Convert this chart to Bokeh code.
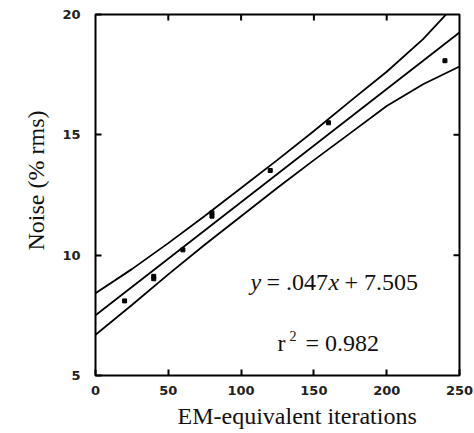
import math
from bokeh.plotting import figure
from bokeh.models import Range1d, FixedTicker, Label, Title
from bokeh.embed import file_html
from bokeh.resources import INLINE

# ---- data ----
x_ticks = [0, 50, 100, 150, 200, 250]
y_ticks = [5, 10, 15, 20]
top_ticks = [50, 100, 150, 200]
right_ticks = [10, 15]

pts_x = [20, 40, 40, 60, 80, 80, 120, 160, 240]
pts_y = [8.1, 9.02, 9.12, 10.22, 11.62, 11.76, 13.52, 15.5, 18.08]

fit_x = [0, 250]
fit_y = [7.505, 19.255]

band_x = [0, 25, 50, 75, 100, 125, 150, 175, 200, 225, 250]
band_upper = [8.42, 9.42, 10.50, 11.63, 12.79, 13.96, 15.16, 16.40, 17.62, 18.98, 20.60]
band_lower = [6.69, 7.93, 9.20, 10.43, 11.62, 12.80, 13.95, 15.07, 16.20, 17.10, 17.84]

x_min, x_max = 0, 250
y_min, y_max = 5, 20

SERIF = "Liberation Serif"
SANS = "DejaVu Sans"
INK = "#111111"

p = figure(width=474, height=433, x_range=Range1d(x_min, x_max), y_range=Range1d(y_min, y_max),
           output_backend="svg", toolbar_location=None,
           min_border_left=95, min_border_right=15, min_border_top=14, min_border_bottom=58)
p.xgrid.visible = False
p.ygrid.visible = False
p.outline_line_color = "black"
p.outline_line_width = 2
p.background_fill_color = "white"
p.border_fill_color = "white"

def style_axis(ax, ticks, standoff):
    ax.ticker = FixedTicker(ticks=ticks)
    ax.minor_tick_line_color = None
    ax.major_tick_in = 6
    ax.major_tick_out = 0
    ax.major_tick_line_width = 2
    ax.major_tick_line_color = "black"
    ax.axis_line_color = None
    ax.major_label_standoff = standoff
    ax.major_label_text_font = SANS
    ax.major_label_text_font_style = "bold"
    ax.major_label_text_font_size = "13px"
    ax.major_label_text_color = "#222222"

style_axis(p.xaxis[0], x_ticks, 10)
style_axis(p.yaxis[0], y_ticks, 15)

# inward ticks on the top and right sides of the frame
p.ray(x=top_ticks, y=[y_max] * len(top_ticks), length=6, length_units="screen",
      angle=-math.pi / 2, line_color="black", line_width=2)
p.ray(x=[x_max] * len(right_ticks), y=right_ticks, length=6, length_units="screen",
      angle=math.pi, line_color="black", line_width=2)

p.line(band_x, band_upper, line_color="black", line_width=1.8)
p.line(band_x, band_lower, line_color="black", line_width=1.8)
p.line(fit_x, fit_y, line_color="black", line_width=1.8)
p.scatter(pts_x, pts_y, marker="square", size=4, color="black")

# axis titles
xt = Title(text="EM-equivalent iterations", align="left", offset=82, standoff=7,
           text_font=SERIF, text_font_size="24px", text_font_style="normal", text_color=INK)
p.add_layout(xt, "below")
yt = Title(text="Noise (% rms)", align="left", offset=125, standoff=22,
           text_font=SERIF, text_font_size="24px", text_font_style="normal", text_color=INK)
p.add_layout(yt, "left")

# equation
ex, ey = 106.5, 8.61
lift = 7
eq = [("y", "italic", 0), ("= .047", "normal", 16), ("x", "italic", 78), ("+ 7.505", "normal", 94)]
for t, st, off in eq:
    p.add_layout(Label(x=ex, y=ey, x_offset=off, y_offset=lift, text=t, text_font=SERIF,
                       text_font_size="24px", text_font_style=st, text_baseline="alphabetic",
                       text_color=INK))
rx, ry = 125, 6.04
p.add_layout(Label(x=rx, y=ry, y_offset=lift, text="r", text_font=SERIF, text_font_size="24px",
                   text_baseline="alphabetic", text_color=INK))
p.add_layout(Label(x=rx, y=ry, x_offset=12, y_offset=lift + 7, text="2", text_font=SERIF,
                   text_font_size="14px", text_baseline="alphabetic", text_color=INK))
p.add_layout(Label(x=rx, y=ry, x_offset=28, y_offset=lift, text="= 0.982", text_font=SERIF,
                   text_font_size="24px", text_baseline="alphabetic", text_color=INK))

open("out.html", "w").write(file_html(p, INLINE))
